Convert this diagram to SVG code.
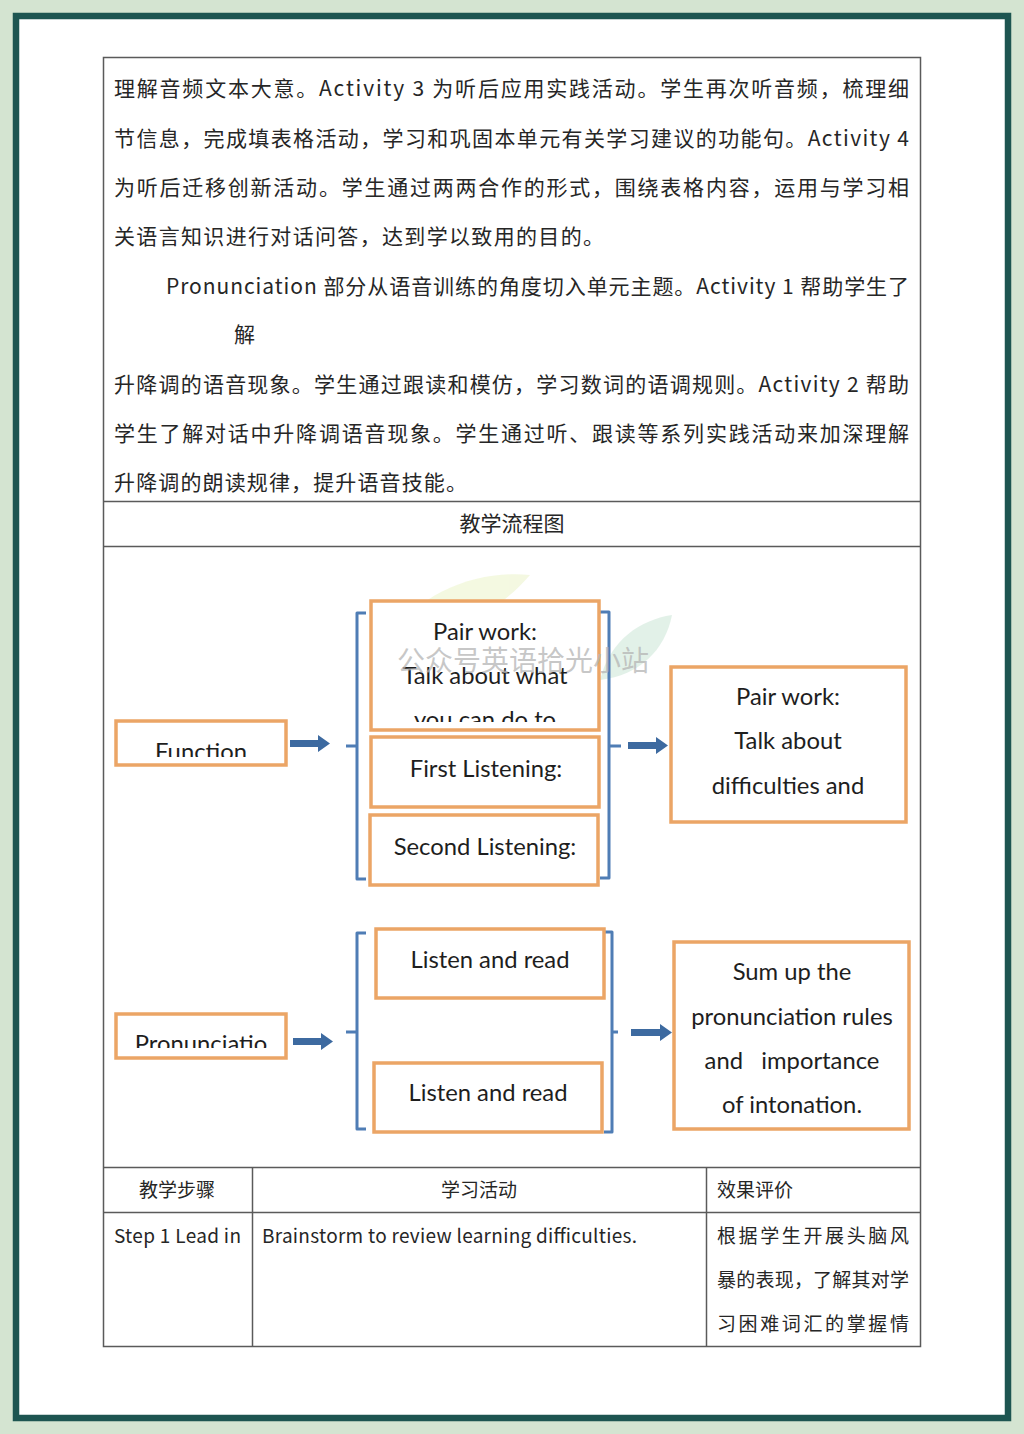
<svg xmlns="http://www.w3.org/2000/svg" width="1024" height="1434" viewBox="0 0 1024 1434">
<style>
.para{font-family:"Noto Sans CJK SC","Noto Sans",sans-serif;font-size:21px;fill:#262626}
.cell{font-family:"Noto Sans CJK SC","Noto Sans",sans-serif;font-size:19px;fill:#262626}
.en{font-family:Lato,"Noto Sans",sans-serif;font-size:23.8px;fill:#1e1e1e;text-anchor:middle}
.box{fill:#fff;stroke:#eba566;stroke-width:3.5}
.brk{fill:none;stroke:#4f7db5;stroke-width:3;stroke-linejoin:round}
.arr{fill:#3d6aa0}
.grid{fill:none;stroke:#5a5a5a;stroke-width:1.5}
</style>
<defs>
<clipPath id="cF"><rect x="117" y="722" width="168" height="35"/></clipPath>
<clipPath id="cP"><rect x="117" y="1016" width="168" height="32"/></clipPath>
<clipPath id="cA"><rect x="372" y="602" width="226" height="120"/></clipPath>
</defs>
<rect x="0" y="0" width="1024" height="1434" fill="#d4e4d1"/>
<rect x="16" y="16" width="992" height="1402" fill="#fff" stroke="#1d5551" stroke-width="6.5"/>

<g id="table">
<rect class="grid" x="103.5" y="57.5" width="817" height="1289"/>
<line class="grid" x1="103" y1="501.5" x2="920" y2="501.5"/>
<line class="grid" x1="103" y1="546.5" x2="920" y2="546.5"/>
<line class="grid" x1="103" y1="1167.5" x2="920" y2="1167.5"/>
<line class="grid" x1="103" y1="1212.5" x2="920" y2="1212.5"/>
<line class="grid" x1="252.5" y1="1167" x2="252.5" y2="1347"/>
<line class="grid" x1="706.5" y1="1167" x2="706.5" y2="1347"/>
</g>

<g id="paragraph">
<text class="para" x="114" y="96" textLength="795" lengthAdjust="spacing">理解音频文本大意。Activity 3 为听后应用实践活动。学生再次听音频，梳理细</text>
<text class="para" x="114" y="146" textLength="795" lengthAdjust="spacing">节信息，完成填表格活动，学习和巩固本单元有关学习建议的功能句。Activity 4</text>
<text class="para" x="114" y="195" textLength="795" lengthAdjust="spacing">为听后迁移创新活动。学生通过两两合作的形式，围绕表格内容，运用与学习相</text>
<text class="para" x="114" y="244" textLength="490" lengthAdjust="spacing">关语言知识进行对话问答，达到学以致用的目的。</text>
<text class="para" x="166" y="294" textLength="743" lengthAdjust="spacing">Pronunciation 部分从语音训练的角度切入单元主题。Activity 1 帮助学生了</text>
<text class="para" x="234" y="342">解</text>
<text class="para" x="114" y="392" textLength="795" lengthAdjust="spacing">升降调的语音现象。学生通过跟读和模仿，学习数词的语调规则。Activity 2 帮助</text>
<text class="para" x="114" y="441" textLength="795" lengthAdjust="spacing">学生了解对话中升降调语音现象。学生通过听、跟读等系列实践活动来加深理解</text>
<text class="para" x="114" y="490" textLength="353" lengthAdjust="spacing">升降调的朗读规律，提升语音技能。</text>
<text class="para" x="512" y="531" text-anchor="middle" font-size="20">教学流程图</text>
</g>

<g id="watermark-leaves" opacity="0.4">
<path d="M388 640 C420 590 480 570 530 575 C500 610 450 640 388 640 Z" fill="#e4efb5"/>
<path d="M600 680 C610 640 640 620 672 615 C665 650 640 675 600 680 Z" fill="#b8ddc8"/>
</g>

<g id="connectors">
<path class="brk" d="M366 613 H357 V879 H366 M357 746 H346"/>
<path class="brk" d="M600 612 H609 V878 H600 M609 746 H621"/>
<path class="brk" d="M366 933 H357 V1129 H366 M357 1032 H346"/>
<path class="brk" d="M604 932 H612 V1132 H604 M612 1032 H618"/>
<path class="arr" d="M290 740 H318 V735 L330 743.5 L318 752 V747 H290 Z"/>
<path class="arr" d="M628 742 H656 V737 L668 745.5 L656 754 V749 H628 Z"/>
<path class="arr" d="M293 1038 H321 V1033 L333 1041.5 L321 1050 V1045 H293 Z"/>
<path class="arr" d="M631 1029 H660 V1024 L672 1032.5 L660 1041 V1036 H631 Z"/>
</g>

<g id="node-function">
<rect class="box" x="116" y="721" width="170" height="44"/>
<text class="en" x="201" y="760" clip-path="url(#cF)">Function</text>
</g>
<g id="node-pairwork1">
<rect class="box" x="371" y="601" width="228" height="129"/>
<g clip-path="url(#cA)">
<text class="en" x="485" y="640">Pair work:</text>
<text class="en" x="485" y="684">Talk about what</text>
<text class="en" x="485" y="728">you can do to</text>
</g>
</g>
<g id="node-first">
<rect class="box" x="371" y="737" width="228" height="70"/>
<text class="en" x="486" y="777">First Listening:</text>
</g>
<g id="node-second">
<rect class="box" x="370" y="815" width="228" height="70"/>
<text class="en" x="485" y="855">Second Listening:</text>
</g>
<g id="node-pairwork2">
<rect class="box" x="671" y="667" width="235" height="155"/>
<text class="en" x="788" y="705">Pair work:</text>
<text class="en" x="788" y="749">Talk about</text>
<text class="en" x="788" y="794">difficulties and</text>
</g>
<g id="node-pronunciation">
<rect class="box" x="116" y="1014" width="170" height="44"/>
<text class="en" x="201" y="1052" clip-path="url(#cP)">Pronunciatio</text>
</g>
<g id="node-listen1">
<rect class="box" x="376" y="929" width="228" height="69"/>
<text class="en" x="490" y="968">Listen and read</text>
</g>
<g id="node-listen2">
<rect class="box" x="374" y="1063" width="228" height="69"/>
<text class="en" x="488" y="1101">Listen and read</text>
</g>
<g id="node-sumup">
<rect class="box" x="674" y="942" width="235" height="187"/>
<text class="en" x="792" y="980">Sum up the</text>
<text class="en" x="792" y="1025">pronunciation rules</text>
<text class="en" x="792" y="1069" xml:space="preserve">and   importance</text>
<text class="en" x="792" y="1113">of intonation.</text>
</g>

<g id="watermark">
<text x="523" y="671" text-anchor="middle" font-family="'Noto Sans CJK SC',sans-serif" font-size="28" fill="#b5b5b5" fill-opacity="0.75">公众号英语拾光小站</text>
</g>

<g id="table-rows">
<text class="cell" x="177" y="1197" text-anchor="middle">教学步骤</text>
<text class="cell" x="479" y="1197" text-anchor="middle">学习活动</text>
<text class="cell" x="717" y="1197">效果评价</text>
<text class="cell" x="114" y="1243" textLength="127" lengthAdjust="spacing">Step 1 Lead in</text>
<text class="cell" x="262" y="1243" textLength="375" lengthAdjust="spacing">Brainstorm to review learning difficulties.</text>
<text class="cell" x="717" y="1243" textLength="192" lengthAdjust="spacing">根据学生开展头脑风</text>
<text class="cell" x="717" y="1287" textLength="192" lengthAdjust="spacing">暴的表现，了解其对学</text>
<text class="cell" x="717" y="1331" textLength="192" lengthAdjust="spacing">习困难词汇的掌握情</text>
</g>
</svg>
